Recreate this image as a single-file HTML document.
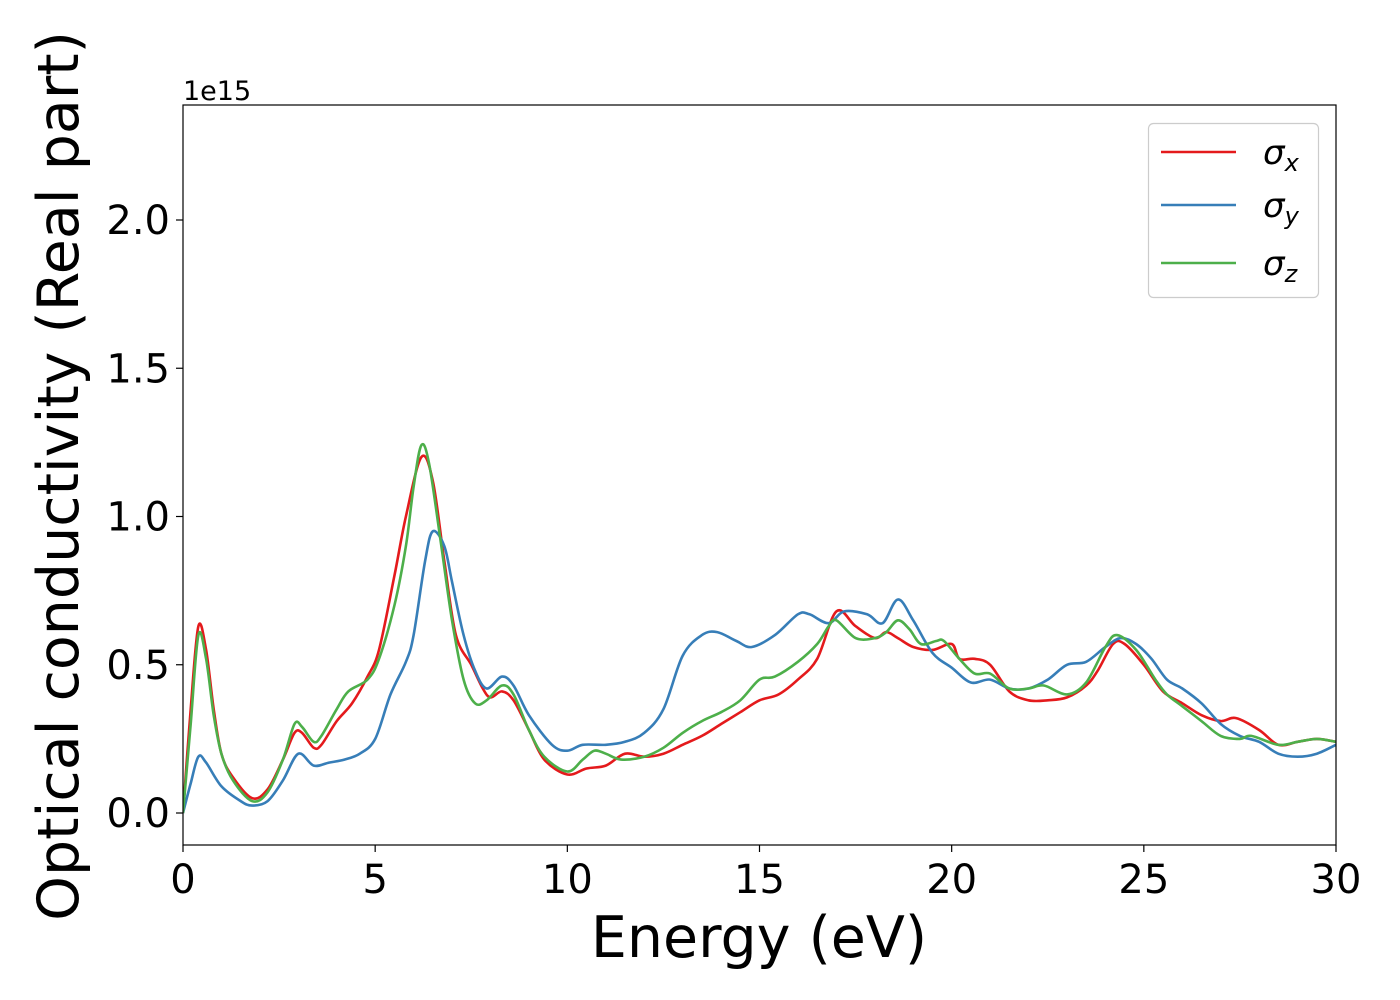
<!DOCTYPE html>
<html><head><meta charset="utf-8"><style>
html,body{margin:0;padding:0;background:#fff;}
svg{display:block;font-family:"DejaVu Sans","Liberation Sans",sans-serif;}
</style></head><body>
<svg id="chart" width="1400" height="1000" viewBox="0 0 1400 1000">
<rect x="0" y="0" width="1400" height="1000" fill="#fff"/>
<g id="series"></g>
<rect x="183" y="105" width="1153" height="740" fill="none" stroke="#000" stroke-width="1.2"/>
<g id="xticks"></g>
<g id="yticks"></g>
<text x="183" y="100" font-size="27">1e15</text>
<text x="759" y="957" font-size="57" text-anchor="middle">Energy (eV)</text>
<text transform="translate(78,476) rotate(-90)" font-size="57" text-anchor="middle">Optical conductivity (Real part)</text>
<g>
<rect x="1148.5" y="123.5" width="170" height="174" rx="5" fill="#fff" fill-opacity="0.8" stroke="#ccc" stroke-width="1.2"/>
<line x1="1161" y1="152" x2="1236" y2="152" stroke="#e41a1c" stroke-width="2.6"/>
<text x="1263" y="164" font-size="34" font-style="italic">σ<tspan font-size="24" dy="7">x</tspan></text>
<line x1="1161" y1="205" x2="1236" y2="205" stroke="#377eb8" stroke-width="2.6"/>
<text x="1263" y="217" font-size="34" font-style="italic">σ<tspan font-size="24" dy="7">y</tspan></text>
<line x1="1161" y1="263" x2="1236" y2="263" stroke="#4daf4a" stroke-width="2.6"/>
<text x="1263" y="275" font-size="34" font-style="italic">σ<tspan font-size="24" dy="7">z</tspan></text>
</g>
</svg>
<script>
const xTickValues = [0,5,10,15,20,25,30];
const yTickValues = [0.0,0.5,1.0,1.5,2.0];
const yTickLabels = ["0.0","0.5","1.0","1.5","2.0"];
const redE = [0,0.2,0.4,0.6,0.8,1.0,1.3,1.8,2.2,2.6,2.9,3.1,3.4,3.6,4.0,4.4,4.8,5.1,5.5,5.8,6.2,6.5,6.8,7.1,7.5,7.8,8.0,8.3,8.6,9.0,9.4,10.0,10.5,11.0,11.5,12.0,12.5,13.0,13.5,14.0,14.5,15.0,15.5,16.0,16.5,17.0,17.5,18.0,18.3,18.6,19.0,19.5,20.0,20.2,20.6,21.0,21.5,22.0,22.5,23.0,23.5,23.8,24.2,24.5,25.0,25.5,26.0,26.5,27.0,27.4,28.0,28.5,29.0,29.5,30.0];
const redV = [0,0.35,0.63,0.55,0.35,0.2,0.12,0.05,0.08,0.18,0.27,0.27,0.22,0.23,0.31,0.37,0.46,0.55,0.8,1.0,1.2,1.12,0.85,0.6,0.5,0.42,0.39,0.41,0.38,0.28,0.18,0.13,0.15,0.16,0.2,0.19,0.2,0.23,0.26,0.3,0.34,0.38,0.4,0.45,0.52,0.68,0.63,0.59,0.61,0.59,0.56,0.55,0.57,0.52,0.52,0.5,0.41,0.38,0.38,0.39,0.43,0.48,0.57,0.57,0.5,0.41,0.37,0.33,0.31,0.32,0.28,0.23,0.24,0.25,0.24];
const blueE = [0,0.2,0.4,0.6,1.0,1.5,1.8,2.2,2.6,3.0,3.4,3.8,4.2,4.6,5.0,5.4,5.8,6.0,6.3,6.5,6.8,7.0,7.3,7.6,7.9,8.3,8.6,9.0,9.6,10.0,10.4,11.0,11.5,12.0,12.5,13.0,13.5,13.9,14.4,14.8,15.4,16.0,16.3,16.8,17.2,17.8,18.2,18.6,19.0,19.5,20.0,20.5,21.0,21.5,22.0,22.5,23.0,23.5,24.0,24.4,24.8,25.2,25.6,26.0,26.5,27.0,27.5,28.0,28.5,29.0,29.5,30.0];
const blueV = [0,0.1,0.19,0.17,0.09,0.04,0.025,0.04,0.11,0.2,0.16,0.17,0.18,0.2,0.25,0.4,0.51,0.6,0.85,0.95,0.9,0.78,0.6,0.48,0.42,0.46,0.43,0.33,0.23,0.21,0.23,0.23,0.24,0.27,0.35,0.53,0.6,0.61,0.58,0.56,0.6,0.67,0.67,0.64,0.68,0.67,0.64,0.72,0.65,0.54,0.49,0.44,0.45,0.42,0.42,0.45,0.5,0.51,0.56,0.59,0.57,0.52,0.45,0.42,0.37,0.3,0.26,0.24,0.2,0.19,0.2,0.23];
const greenE = [0,0.2,0.4,0.6,0.8,1.0,1.3,1.8,2.2,2.6,2.9,3.1,3.4,3.6,4.0,4.3,4.8,5.1,5.5,5.8,6.0,6.2,6.4,6.7,7.0,7.3,7.6,7.9,8.3,8.6,9.0,9.4,10.0,10.4,10.7,11.0,11.4,12.0,12.5,13.0,13.5,14.0,14.5,15.0,15.4,16.0,16.5,16.8,17.0,17.5,18.0,18.3,18.6,18.9,19.2,19.6,19.8,20.2,20.6,21.0,21.5,22.0,22.4,23.0,23.5,24.0,24.3,24.8,25.3,25.6,26.0,26.5,27.0,27.5,27.8,28.5,29.0,29.5,30.0];
const greenV = [0,0.3,0.6,0.52,0.33,0.2,0.11,0.04,0.07,0.18,0.3,0.29,0.24,0.26,0.35,0.41,0.45,0.52,0.7,0.9,1.1,1.24,1.18,0.92,0.65,0.45,0.37,0.38,0.43,0.4,0.28,0.19,0.14,0.18,0.21,0.2,0.18,0.19,0.22,0.27,0.31,0.34,0.38,0.45,0.46,0.51,0.57,0.63,0.65,0.59,0.59,0.61,0.65,0.62,0.57,0.58,0.58,0.52,0.47,0.47,0.42,0.42,0.43,0.4,0.44,0.56,0.6,0.55,0.45,0.4,0.36,0.31,0.26,0.25,0.26,0.23,0.24,0.25,0.24];

const NS = "http://www.w3.org/2000/svg";
const X0 = 183, X1 = 1336, XMIN = 0, XMAX = 30;
const Y0 = 813, YPER = 296.5;
function sx(v){ return X0 + (v - XMIN) / (XMAX - XMIN) * (X1 - X0); }
function sy(v){ return Y0 - v * YPER; }

function smoothPath(xs, ys){
  const p = xs.map((x,i)=>[sx(x), sy(ys[i])]);
  let d = "M" + p[0][0].toFixed(1) + "," + p[0][1].toFixed(1);
  for (let i = 0; i < p.length - 1; i++){
    const a = p[Math.max(0,i-1)], b = p[i], c = p[i+1], e = p[Math.min(p.length-1,i+2)];
    const c1 = [b[0] + (c[0]-a[0])/6, b[1] + (c[1]-a[1])/6];
    const c2 = [c[0] - (e[0]-b[0])/6, c[1] - (e[1]-b[1])/6];
    d += " C" + c1[0].toFixed(1) + "," + c1[1].toFixed(1) + " " + c2[0].toFixed(1) + "," + c2[1].toFixed(1) + " " + c[0].toFixed(1) + "," + c[1].toFixed(1);
  }
  return d;
}

const sg = document.getElementById("series");
const clip = document.createElementNS(NS, "clipPath");
clip.setAttribute("id", "plotclip");
const cr = document.createElementNS(NS, "rect");
cr.setAttribute("x", X0); cr.setAttribute("y", 105); cr.setAttribute("width", X1 - X0); cr.setAttribute("height", 740);
clip.appendChild(cr);
sg.appendChild(clip);

const pRed = document.createElementNS(NS, "path");
pRed.setAttribute("d", smoothPath(redE, redV));
pRed.setAttribute("fill", "none"); pRed.setAttribute("stroke", "#e41a1c"); pRed.setAttribute("stroke-width", "2.6");
pRed.setAttribute("clip-path", "url(#plotclip)");


sg.appendChild(pRed);

const pBlue = document.createElementNS(NS, "path");
pBlue.setAttribute("d", smoothPath(blueE, blueV));
pBlue.setAttribute("fill", "none"); pBlue.setAttribute("stroke", "#377eb8"); pBlue.setAttribute("stroke-width", "2.6");
pBlue.setAttribute("clip-path", "url(#plotclip)");


sg.appendChild(pBlue);

const pGreen = document.createElementNS(NS, "path");
pGreen.setAttribute("d", smoothPath(greenE, greenV));
pGreen.setAttribute("fill", "none"); pGreen.setAttribute("stroke", "#4daf4a"); pGreen.setAttribute("stroke-width", "2.6");
pGreen.setAttribute("clip-path", "url(#plotclip)");


sg.appendChild(pGreen);

const xg = document.getElementById("xticks");
xTickValues.forEach(v => {
  const l = document.createElementNS(NS, "line");
  l.setAttribute("x1", sx(v)); l.setAttribute("x2", sx(v)); l.setAttribute("y1", 845); l.setAttribute("y2", 852);
  l.setAttribute("stroke", "#000"); l.setAttribute("stroke-width", "1.2");
  
  
  xg.appendChild(l);
  const t = document.createElementNS(NS, "text");
  t.setAttribute("x", sx(v)); t.setAttribute("y", 893); t.setAttribute("font-size", "40"); t.setAttribute("text-anchor", "middle");
  t.textContent = String(v);
  
  
  xg.appendChild(t);
});
const yg = document.getElementById("yticks");
yTickValues.forEach((v, i) => {
  const l = document.createElementNS(NS, "line");
  l.setAttribute("x1", 176); l.setAttribute("x2", 183); l.setAttribute("y1", sy(v)); l.setAttribute("y2", sy(v));
  l.setAttribute("stroke", "#000"); l.setAttribute("stroke-width", "1.2");
  
  
  yg.appendChild(l);
  const t = document.createElementNS(NS, "text");
  t.setAttribute("x", 170); t.setAttribute("y", sy(v) + 14); t.setAttribute("font-size", "40"); t.setAttribute("text-anchor", "end");
  t.textContent = yTickLabels[i];
  
  
  yg.appendChild(t);
});
</script>
</body></html>
